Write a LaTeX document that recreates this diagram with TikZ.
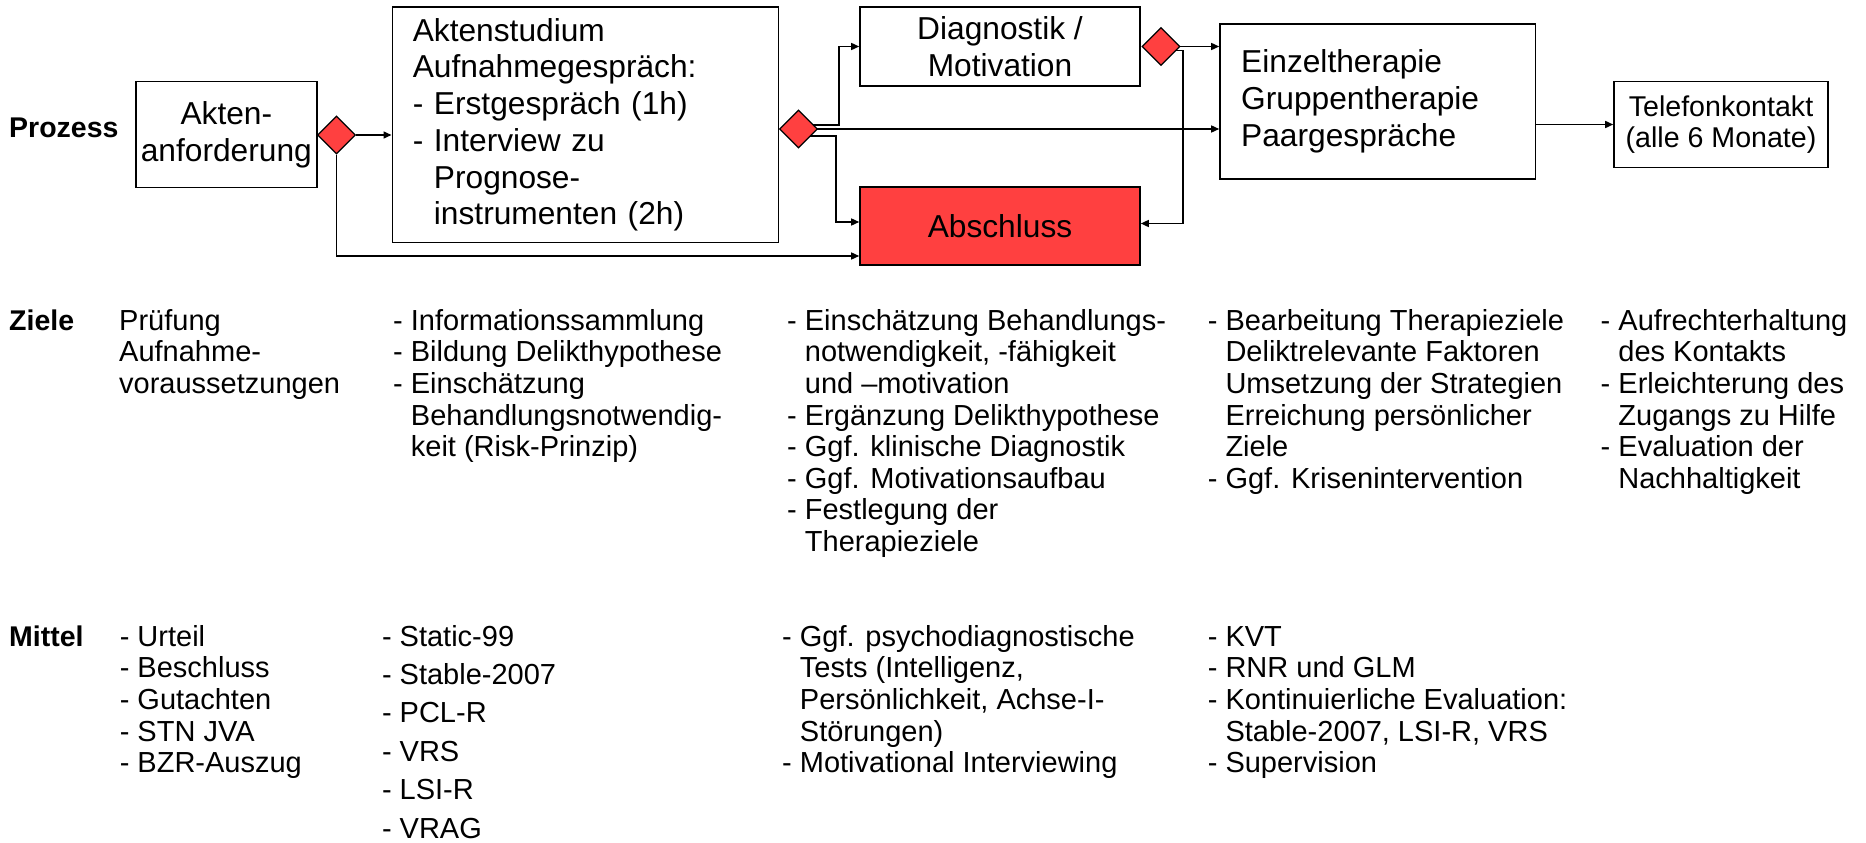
\documentclass[tikz,border=0pt]{standalone}
\usepackage{fontspec}
\setmainfont{Liberation Sans}
\usetikzlibrary{shapes.geometric,arrows.meta,backgrounds}
\definecolor{dred}{RGB}{255,64,64}
\newcommand{\hind}{\hphantom{- }}
\begin{document}
\begin{tikzpicture}[x=1pt,y=-1pt,
  box/.style={draw, line width=1.6pt, inner sep=0pt, font=\fontsize{31.7}{36.7}\selectfont},
  dia/.style={diamond, draw, fill=dred, line width=1.3pt, minimum width=38pt, minimum height=38pt, inner sep=0pt},
  arr/.style={line width=1.5pt, -{Triangle[length=8pt,width=7pt]}},
  lbl/.style={font=\bfseries\fontsize{28.5}{31.6}\selectfont, anchor=base west, inner sep=0pt},
  col/.style={font=\fontsize{29}{31.6}\selectfont, align=left, anchor=north west, inner sep=0pt},
  colwide/.style={font=\fontsize{29}{38.4}\selectfont, align=left, anchor=north west, inner sep=0pt}]
\useasboundingbox (0,0) rectangle (1866,843);

% process boxes
\node[box, minimum width=180.7pt, minimum height=105.6pt, align=center] (akt) at (226.35,134.5) {Akten-\\anforderung};
\node[box, minimum width=386pt, minimum height=235pt, text width=345pt, align=left] (b2) at (585.3,124.8)
  {Aktenstudium\\Aufnahmegespräch:\\- Erstgespräch (1h)\\- Interview zu\\\hind Prognose-\\\hind instrumenten (2h)};
\node[box, minimum width=280pt, minimum height=78.4pt, align=center] (diag) at (1000,46.5) {Diagnostik /\\Motivation};
\node[box, fill=dred, minimum width=280pt, minimum height=78.3pt] (abs) at (1000,225.85) {Abschluss};
\node[box, minimum width=315.6pt, minimum height=155pt, text width=273.2pt, align=left] (ein) at (1377.8,101.5)
  {Einzeltherapie\\Gruppentherapie\\Paargespräche};
\node[box, font=\fontsize{28.6}{31.7}\selectfont, minimum width=214pt, minimum height=85.6pt, align=center] (tel) at (1721,124.5)
  {Telefonkontakt\\(alle 6 Monate)};

% decision diamonds
\node[dia] (d1) at (336.5,135) {};
\node[dia] (d2) at (798.5,129) {};
\node[dia] (d3) at (1161,46.5) {};

% helper coordinates
\coordinate (yb) at (0,256);
\coordinate (ju) at (839,125);
\coordinate (jd) at (836,136);
\coordinate (ya) at (0,222);
\coordinate (jr) at (1183,50.5);
\coordinate (yr) at (0,223.5);

\begin{scope}[on background layer]
  \draw[arr] (d1.east) -- (d1.east -| b2.west);
  \draw[arr] (d1.south) |- (abs.west |- yb);
  \draw[arr] (d2.center |- ju) -- (ju) |- (diag.west);
  \draw[arr] (d2.center) -- (d2.center -| ein.west);
  \draw[arr] (d2.center |- jd) -- (jd) |- (abs.west |- ya);
  \draw[arr] (d3.center) -- (d3.center -| ein.west);
  \draw[arr] (d3.center |- jr) -- (jr) |- (abs.east |- yr);
  \draw[arr] (ein.east |- tel.west) -- (tel.west);
\end{scope}

% row labels
\node[lbl] (lp) at (9,137) {Prozess};
\node[lbl] (lz) at (9,330) {Ziele};
\node[lbl] (lm) at (9,646) {Mittel};

% Ziele
\node[col] (z1) at (119,307.9) {\strut Prüfung\\Aufnahme-\\voraussetzungen};
\node[col] (z2) at (393,307.9) {\strut- Informationssammlung\\- Bildung Delikthypothese\\- Einschätzung\\\hind Behandlungsnotwendig-\\\hind keit (Risk-Prinzip)};
\node[col] (z3) at (787,307.9) {\strut- Einschätzung Behandlungs-\\\hind notwendigkeit, -fähigkeit\\\hind und –motivation\\- Ergänzung Delikthypothese\\- Ggf. klinische Diagnostik\\- Ggf. Motivationsaufbau\\- Festlegung der\\\hind Therapieziele};
\node[col] (z4) at (1207.6,307.9) {\strut- Bearbeitung Therapieziele\\\hind Deliktrelevante Faktoren\\\hind Umsetzung der Strategien\\\hind Erreichung persönlicher\\\hind Ziele\\- Ggf. Krisenintervention};
\node[col] (z5) at (1600.5,307.9) {\strut- Aufrechterhaltung\\\hind des Kontakts\\- Erleichterung des\\\hind Zugangs zu Hilfe\\- Evaluation der\\\hind Nachhaltigkeit};

% Mittel
\node[col] (m1) at (119.6,623.9) {\strut- Urteil\\- Beschluss\\- Gutachten\\- STN JVA\\- BZR-Auszug};
\node[colwide] (m2) at (381.8,619.1) {\strut- Static-99\\- Stable-2007\\- PCL-R\\- VRS\\- LSI-R\\- VRAG};
\node[col] (m3) at (782,623.9) {\strut- Ggf. psychodiagnostische\\\hind Tests (Intelligenz,\\\hind Persönlichkeit, Achse-I-\\\hind Störungen)\\- Motivational Interviewing};
\node[col] (m4) at (1207.6,623.9) {\strut- KVT\\- RNR und GLM\\- Kontinuierliche Evaluation:\\\hind Stable-2007, LSI-R, VRS\\- Supervision};
\end{tikzpicture}
\end{document}
